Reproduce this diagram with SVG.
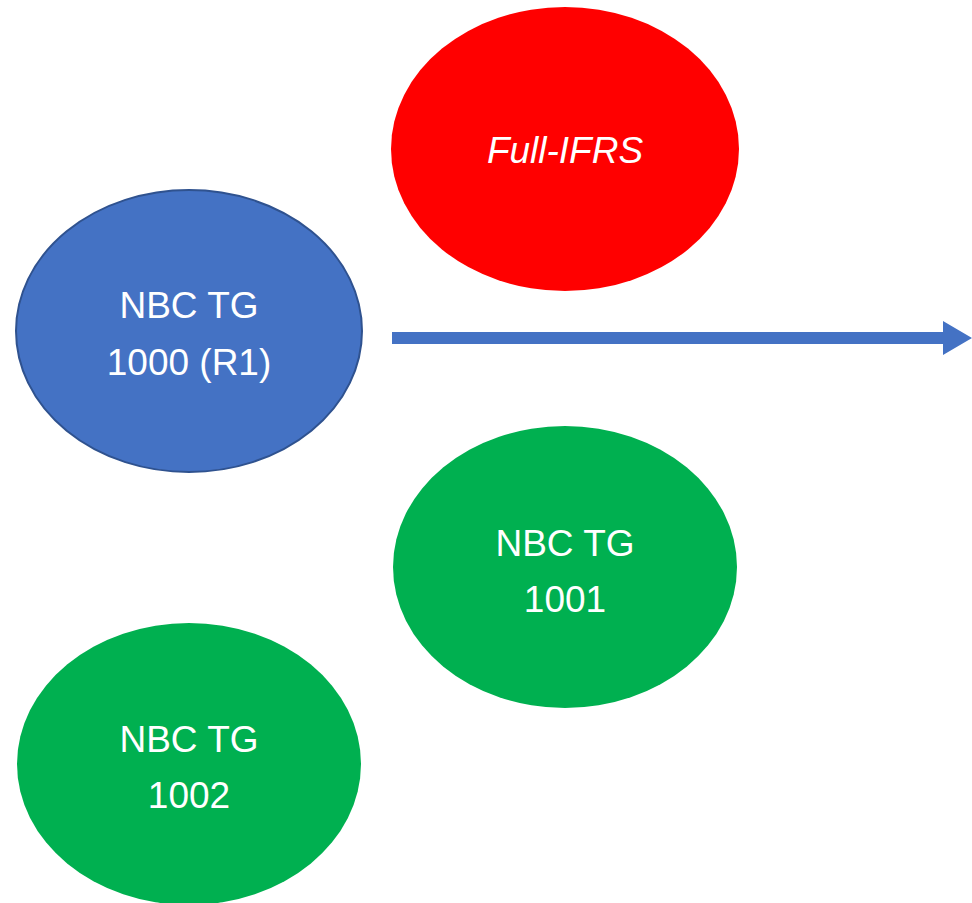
<svg xmlns="http://www.w3.org/2000/svg" width="972" height="903" viewBox="0 0 972 903">
<style>
.t{font-family:"Liberation Sans","Open Sans",sans-serif;font-size:37px;fill:#fff;text-anchor:middle}
.i{font-style:italic}
</style>
<rect width="972" height="903" fill="#fff"/>
<g id="nbc1000"><ellipse cx="189" cy="331" rx="173" ry="141" fill="#4472C4" stroke="#2F528F" stroke-width="2"/>
<text class="t" x="189" y="318">NBC TG</text><text class="t" x="189" y="375">1000 (R1)</text></g>
<g id="fullifrs"><ellipse cx="565" cy="149" rx="174" ry="142" fill="#FF0000"/>
<text class="t i" x="565" y="163">Full-IFRS</text></g>
<g id="nbc1001"><ellipse cx="565" cy="567" rx="172" ry="141" fill="#00B050"/>
<text class="t" x="565" y="556">NBC TG</text><text class="t" x="565" y="612">1001</text></g>
<g id="nbc1002"><ellipse cx="189" cy="764" rx="172" ry="141" fill="#00B050"/>
<text class="t" x="189" y="752">NBC TG</text><text class="t" x="189" y="808">1002</text></g>
<g id="connectors"><path d="M392 332H943V321L972 338L943 355V344H392Z" fill="#4472C4"/></g>
</svg>
